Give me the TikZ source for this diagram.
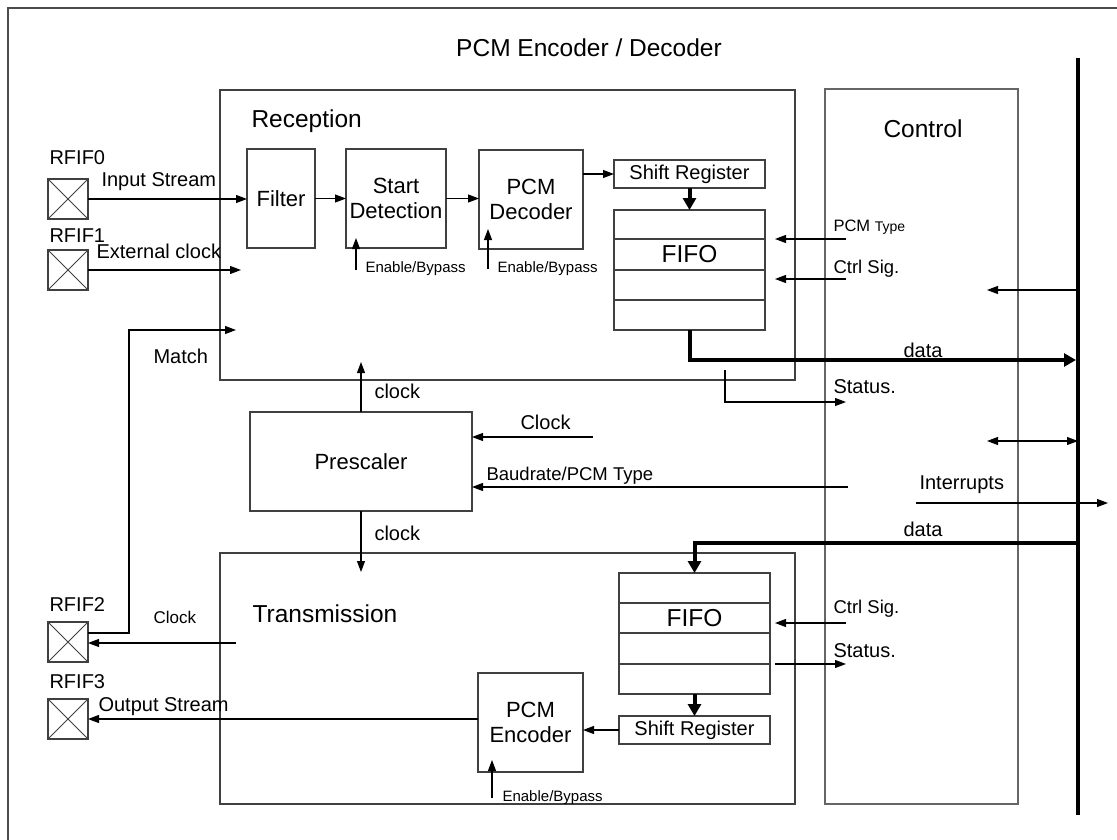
\documentclass[tikz,border=0pt]{standalone}
\usepackage{fontspec}
\setmainfont{Liberation Sans}
\usetikzlibrary{arrows.meta}

\begin{document}
\begin{tikzpicture}[x=1pt,y=-1pt,line width=1.1pt,
	>={Triangle[length=11pt,width=8pt]},
	blk/.style={draw=black!75,line width=1.3pt,inner sep=2pt,outer sep=0pt,align=center,font=\fontsize{22}{25}\selectfont},
	grp/.style={draw=black!75,line width=1.3pt,outer sep=0pt},
	pad/.style={draw=black!75,line width=1.1pt,minimum size=40pt,inner sep=0pt,outer sep=0pt,
		path picture={\draw[line width=1pt] (path picture bounding box.north west) -- (path picture bounding box.south east)
			(path picture bounding box.north east) -- (path picture bounding box.south west);}},
	lbl/.style={inner sep=0pt,anchor=base west,font=\fontsize{20}{22}\selectfont},
	sml/.style={inner sep=0pt,anchor=base west,font=\fontsize{15}{17}\selectfont},
	big/.style={inner sep=0pt,font=\fontsize{24.5}{27}\selectfont},
	bus/.style={line width=4.5pt},
	fat/.style={line width=4pt,-{Triangle[length=12pt,width=13pt]}}]
					\useasboundingbox (0,0) rectangle (1117,840);
					\draw[black!70,line width=1.2pt] (8,860) -- (8,8) -- (1140,8);

					\node[big,anchor=base] (ttl) at (589,57) {PCM Encoder / Decoder};

					\node[grp,minimum width=575pt,minimum height=290pt] (rx) at (507.5,235) {};
					\node[big,anchor=base west] (rxl) at (251,128) {Reception};
					\node[grp,minimum width=575pt,minimum height=251pt] (tx) at (507.5,678.5) {};
					\node[big,anchor=base west] (txl) at (252,622) {Transmission};
					\node[grp,draw=black!60,minimum width=193pt,minimum height=715pt] (ctl) at (921.5,446.5) {};
					\node[big,anchor=base] (ctll) at (923,138) {Control};

					\coordinate (bustop) at (1078,58);
					\coordinate (busbot) at (1078,815);
					\draw[bus] (bustop) -- (busbot);

					\node[blk,minimum width=68pt,minimum height=99pt] (filt) at (281,198.5) {Filter};
					\node[blk,minimum width=100pt,minimum height=99pt] (sdet) at (396,198.5) {Start\\Detection};
					\node[blk,minimum width=104pt,minimum height=99pt] (dec) at (531,199.5) {PCM\\Decoder};
					\node[blk,minimum width=151pt,minimum height=28pt,font=\fontsize{20}{22}\selectfont] (srrx) at (689.5,174) {Shift Register};
					\node[blk,minimum width=151pt,minimum height=120pt] (fiforx) at (689.5,270) {};
					\node[big] (fiforxl) at (689.5,254.5) {FIFO};
					\draw[black!75] ([yshift=-29pt]fiforx.north west) -- ([yshift=-29pt]fiforx.north east);
					\draw[black!75] ([yshift=-60pt]fiforx.north west) -- ([yshift=-60pt]fiforx.north east);
					\draw[black!75] ([yshift=-90pt]fiforx.north west) -- ([yshift=-90pt]fiforx.north east);

					\node[blk,minimum width=222pt,minimum height=99pt] (pre) at (361,461.5) {Prescaler};

					\node[blk,minimum width=151pt,minimum height=121pt] (fifotx) at (694.5,633.5) {};
					\node[big] (fifotxl) at (694.5,618) {FIFO};
					\draw[black!75] ([yshift=-30pt]fifotx.north west) -- ([yshift=-30pt]fifotx.north east);
					\draw[black!75] ([yshift=-60pt]fifotx.north west) -- ([yshift=-60pt]fifotx.north east);
					\draw[black!75] ([yshift=-91pt]fifotx.north west) -- ([yshift=-91pt]fifotx.north east);
					\node[blk,minimum width=151pt,minimum height=28pt,font=\fontsize{20}{22}\selectfont] (srtx) at (694.5,730) {Shift Register};
					\node[blk,minimum width=105pt,minimum height=99pt] (enc) at (530.5,722.5) {PCM\\Encoder};

					\node[pad] (p0) at (68,199) {};
					\node[lbl] (p0l) at (49,165) {RFIF0};
					\node[pad] (p1) at (68,270) {};
					\node[lbl] (p1l) at (49,242) {RFIF1};
					\node[pad] (p2) at (68,642) {};
					\node[lbl] (p2l) at (49,611) {RFIF2};
					\node[pad] (p3) at (68,719) {};
					\node[lbl] (p3l) at (49,688) {RFIF3};

					\draw[->] (p0.east) -- (p0.east -| filt.west);
					\node[lbl] (isl) at (101,186) {Input Stream};
					\draw[->] (filt) -- (sdet);
					\draw[->] (sdet.east) -- (sdet.east -| dec.west);
					\draw[->] (dec.east |- srrx) -- (srrx.west);
					\draw[fat] (srrx) -- (fiforx);

					\coordinate (extclk) at (241,270);
					\draw[->] (p1.east) -- (extclk);
					\node[lbl] (ecl) at (96,258) {External clock};

					\coordinate (mturn) at (129,330);
					\coordinate (match) at (236,330);
					\draw[->] ([yshift=9pt]p2.east) -| (mturn) -- (match);
					\node[lbl] (mal) at (153,363) {Match};

					\coordinate (en1) at (356,270);
					\draw[->] (en1) -- ([yshift=10pt]en1 |- sdet.south);
					\node[sml] (en1l) at (365,272) {Enable/Bypass};
					\coordinate (en2) at (488,269);
					\draw[->] (en2) -- ([yshift=20pt]en2 |- dec.south);
					\node[sml] (en2l) at (497,272) {Enable/Bypass};

					\coordinate (rxbus) at (1076,360);
					\draw[fat] (fiforx.south) |- (rxbus);
					\node[lbl,anchor=base] (dat1) at (923,357) {data};

					\coordinate (pcmt) at (846,239);
					\draw[->] (pcmt) -- ([xshift=10pt]pcmt -| fiforx.east);
					\node[inner sep=0pt,anchor=base west] (pcmtl) at (833,231) {\fontsize{16.5}{18}\selectfont PCM \fontsize{14}{16}\selectfont Type};
					\coordinate (csig1) at (846,279);
					\draw[->] (csig1) -- ([xshift=10pt]csig1 -| fiforx.east);
					\node[lbl,font=\fontsize{18.5}{20}\selectfont] (csig1l) at (833,273) {Ctrl Sig.};
					\coordinate (cin) at (987,290);
					\draw[->] (cin -| bustop) -- (cin);

					\coordinate (st1) at (725,370);
					\coordinate (st1e) at (846,402);
					\draw[->] (st1) |- (st1e);
					\node[lbl] (st1l) at (833,393) {Status.};

					\coordinate (clkup) at (361,362);
					\draw[->] (pre) -- (clkup);
					\node[lbl] (cl1) at (374,398) {clock};
					\coordinate (clkin) at (593,437);
					\draw[->] (clkin) -- (clkin -| pre.east);
					\node[lbl] (cl2) at (520,429) {Clock};
					\coordinate (baud) at (848,487);
					\draw[->] (baud) -- (baud -| pre.east);
					\node[lbl,font=\fontsize{18.5}{20}\selectfont] (bdl) at (486,480) {Baudrate/PCM Type};
					\coordinate (clkdn) at (361,572);
					\draw[->] (pre) -- (clkdn);
					\node[lbl] (cl3) at (374,540) {clock};

					\coordinate (bid) at (987,441);
					\draw[<->] (bid) -- (bid -| bustop);
					\coordinate (irq) at (916,503);
					\coordinate (irqe) at (1108,503);
					\draw[->] (irq) -- (irqe);
					\node[lbl] (irql) at (919,489) {Interrupts};

					\coordinate (txbus) at (1078,543);
					\draw[fat] (txbus) -| (fifotx.north);
					\node[lbl,anchor=base] (dat2) at (923,536) {data};
					\draw[fat] (fifotx) -- (srtx);
					\draw[->] (srtx.west) -- (srtx.west -| enc.east);

					\coordinate (csig2) at (846,623);
					\draw[->] (csig2) -- ([xshift=5pt]csig2 -| fifotx.east);
					\node[lbl,font=\fontsize{18.5}{20}\selectfont] (csig2l) at (833,613) {Ctrl Sig.};
					\coordinate (st2) at (775,664);
					\coordinate (st2e) at (846,664);
					\draw[->] (st2) -- (st2e);
					\node[lbl] (st2l) at (833,657) {Status.};

					\coordinate (txclk) at (236,643);
					\draw[->] (txclk) -- (txclk -| p2.east);
					\node[lbl,font=\fontsize{17}{19}\selectfont] (ckl) at (153,623) {Clock};
					\draw[->] (enc.west |- p3) -- (p3.east);
					\node[lbl] (osl) at (98,711) {Output Stream};

					\coordinate (en3) at (492,798);
					\draw[->] (en3) -- ([yshift=12pt]en3 |- enc.south);
					\node[sml] (en3l) at (502,801) {Enable/Bypass};
				\end{tikzpicture}
\end{document}
